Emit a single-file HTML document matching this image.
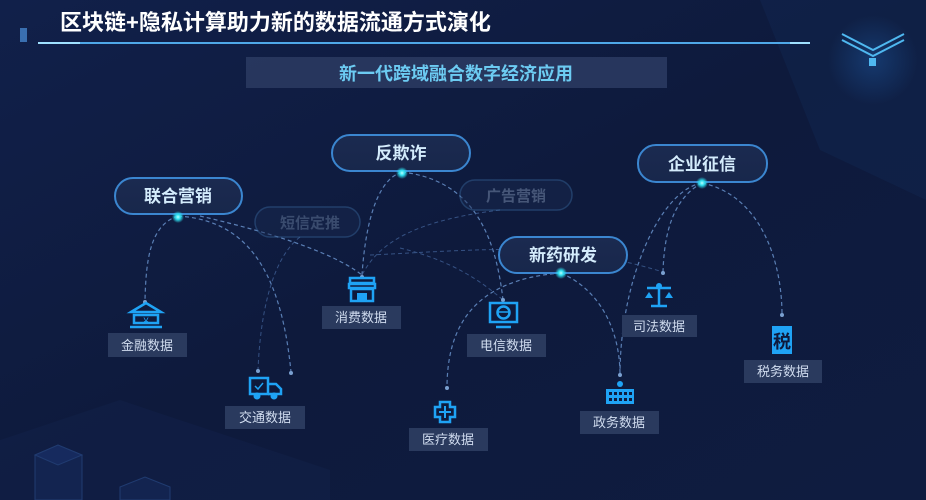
<!DOCTYPE html>
<html><head><meta charset="utf-8">
<style>
html,body{margin:0;padding:0;}
body{width:926px;height:500px;overflow:hidden;background:#0e1a3c;font-family:"Liberation Sans","Noto Sans CJK SC",sans-serif;}
svg{display:block}
text{font-family:"Liberation Sans","Noto Sans CJK SC",sans-serif;}
</style></head><body>
<svg width="926" height="500" viewBox="0 0 926 500" xmlns="http://www.w3.org/2000/svg">
<defs>
<linearGradient id="bg" x1="0" y1="0" x2="1" y2="1">
<stop offset="0" stop-color="#11204a"/><stop offset="0.5" stop-color="#0e1a3c"/><stop offset="1" stop-color="#0f1c40"/>
</linearGradient>
<radialGradient id="rg" cx="0.5" cy="0.5" r="0.5">
<stop offset="0" stop-color="#1a4a8a" stop-opacity="0.6"/><stop offset="1" stop-color="#1a4a8a" stop-opacity="0"/>
</radialGradient>
<radialGradient id="dot" cx="0.5" cy="0.5" r="0.5">
<stop offset="0" stop-color="#bff"/><stop offset="0.4" stop-color="#2de0f0"/><stop offset="1" stop-color="#2de0f0" stop-opacity="0"/>
</radialGradient>
<linearGradient id="pill" x1="0" y1="0" x2="0" y2="1">
<stop offset="0" stop-color="#1b2a50"/><stop offset="1" stop-color="#18274b"/>
</linearGradient>
</defs>
<rect width="926" height="500" fill="url(#bg)"/>
<polygon points="760,0 926,0 926,200 820,150" fill="#15305e" opacity="0.3"/>
<circle cx="873" cy="60" r="45" fill="url(#rg)"/>
<polygon points="0,440 120,400 330,470 330,500 0,500" fill="#13254f" opacity="0.35"/>
<g stroke="#2b4f8f" stroke-width="1" fill="#16295a" opacity="0.6">
<polygon points="35,455 58,445 82,455 82,500 35,500"/>
<polygon points="35,455 58,465 82,455 58,445" fill="#1b3470"/>
<polygon points="120,487 145,477 170,487 170,500 120,500"/>
</g>
<!-- title -->
<rect x="20" y="28" width="7" height="14" fill="#3a6fb0"/>
<text x="60" y="30" font-size="22" font-weight="bold" fill="#ffffff">区块链+隐私计算助力新的数据流通方式演化</text>
<line x1="38" y1="43" x2="810" y2="43" stroke="#4fa8e8" stroke-width="2"/>
<line x1="38" y1="43" x2="80" y2="43" stroke="#9fe0ff" stroke-width="2"/>
<line x1="790" y1="43" x2="810" y2="43" stroke="#9fe0ff" stroke-width="2"/>
<polyline points="842,34 873,50 904,34" fill="none" stroke="#4fb8f0" stroke-width="2"/>
<polyline points="842,40 873,56 904,40" fill="none" stroke="#4fb8f0" stroke-width="2"/>
<rect x="869" y="58" width="7" height="8" fill="#4fb8f0"/>
<!-- subtitle -->
<rect x="246" y="57" width="421" height="31" fill="#2a3a60" opacity="0.9"/>
<text x="456" y="80" font-size="18" font-weight="bold" fill="#6ccbf2" text-anchor="middle">新一代跨域融合数字经济应用</text>

<!-- connectors -->
<g fill="none" stroke="#5a7fb5" stroke-width="1.2" stroke-dasharray="4,3">
<path d="M178,216 C150,225 146,260 145,300"/>
<path d="M178,216 C240,220 280,260 291,372"/>
<path d="M200,216 C260,230 330,250 362,275"/>
<path d="M402,172 C375,180 365,230 362,275"/>
<path d="M402,172 C470,180 495,230 503,300"/>
<path d="M561,273 C470,280 448,330 447,385"/>
<path d="M561,273 C600,290 620,330 620,375"/>
<path d="M702,183 C660,190 620,280 620,375"/>
<path d="M702,183 C670,200 664,240 663,272"/>
<path d="M702,183 C760,195 782,260 782,315"/>
</g>
<g fill="none" stroke="#3f5f95" stroke-width="1" stroke-dasharray="4,3" opacity="0.8">
<path d="M300,237 C270,260 260,320 258,370"/>
<path d="M500,210 C420,220 380,240 362,275"/>
<path d="M370,255 C480,250 560,240 663,272"/>
<path d="M400,248 C450,260 480,280 503,300"/>
</g>
<g fill="#7aa0d0">
<circle cx="145" cy="302" r="2"/><circle cx="362" cy="277" r="2"/><circle cx="503" cy="300" r="2"/>
<circle cx="258" cy="371" r="2"/><circle cx="291" cy="373" r="2"/><circle cx="447" cy="388" r="2"/>
<circle cx="620" cy="375" r="2"/><circle cx="663" cy="273" r="2"/><circle cx="782" cy="315" r="2"/>
</g>

<!-- faded pills -->
<g opacity="0.45">
<rect x="255" y="207" width="105" height="30" rx="15" fill="#1a2a50" stroke="#3a6aa0" stroke-width="1.5"/>
<text x="310" y="228" font-size="15" font-weight="bold" fill="#6f86a8" text-anchor="middle">短信定推</text>
<rect x="460" y="180" width="112" height="30" rx="15" fill="#1a2a50" stroke="#3a6aa0" stroke-width="1.5"/>
<text x="516" y="201" font-size="15" font-weight="bold" fill="#8aa0c0" text-anchor="middle">广告营销</text>
</g>
<!-- pills -->
<g stroke="#3b86d0" stroke-width="2" fill="url(#pill)">
<rect x="115" y="178" width="127" height="36" rx="18"/>
<rect x="332" y="135" width="138" height="36" rx="18"/>
<rect x="499" y="237" width="128" height="36" rx="18"/>
<rect x="638" y="145" width="129" height="37" rx="18"/>
</g>
<g font-size="17" font-weight="bold" fill="#d4ecfc" text-anchor="middle">
<text x="178" y="202">联合营销</text>
<text x="401" y="159">反欺诈</text>
<text x="563" y="261">新药研发</text>
<text x="702" y="170">企业征信</text>
</g>
<g>
<circle cx="178" cy="217" r="6" fill="url(#dot)"/>
<circle cx="402" cy="173" r="6" fill="url(#dot)"/>
<circle cx="561" cy="273" r="6" fill="url(#dot)"/>
<circle cx="702" cy="183" r="6" fill="url(#dot)"/>
</g>

<!-- icons -->
<g fill="none" stroke="#1fa3f5" stroke-width="2.5">
<polygon points="131,312 146,303 161,312" />
<rect x="134" y="315" width="24" height="8"/>
<line x1="130" y1="327" x2="162" y2="327"/>
<rect x="350" y="278" width="24" height="5"/>
<path d="M349,284 h26 v4 h-26 z"/>
<rect x="351" y="289" width="22" height="12"/>
<rect x="490" y="303" width="27" height="19"/>
<circle cx="503.5" cy="312.5" r="6"/>
<line x1="497" y1="312" x2="510" y2="312" stroke-width="1.5"/>
<line x1="496" y1="327" x2="511" y2="327"/>
<rect x="250" y="378" width="18" height="16"/>
<path d="M268,384 h8 l5,5 v5 h-13"/>
<path d="M440,402 h10 v5 h5 v10 h-5 v5 h-10 v-5 h-5 v-10 h5 z"/>
<line x1="647" y1="288" x2="671" y2="288"/>
<line x1="659" y1="284" x2="659" y2="306"/>
<line x1="651" y1="306" x2="667" y2="306"/>
</g>
<g fill="#1fa3f5">
<rect x="357" y="293" width="10" height="8"/>
<circle cx="257" cy="396" r="3.5"/><circle cx="274" cy="396" r="3.5"/>
<rect x="444" y="406" width="2" height="12"/>
<rect x="439" y="411" width="12" height="2"/>
<path d="M645,298 l4,-6 4,6 z"/><path d="M665,298 l4,-6 4,6 z"/>
<circle cx="659" cy="286" r="3"/>
<rect x="606" y="389" width="28" height="15"/>
<circle cx="620" cy="384" r="3"/>
<rect x="772" y="326" width="20" height="28"/>
</g>
<g fill="#0e1a3c">
<rect x="609" y="392" width="3" height="3"/><rect x="614" y="392" width="3" height="3"/><rect x="619" y="392" width="3" height="3"/><rect x="624" y="392" width="3" height="3"/><rect x="629" y="392" width="3" height="3"/>
<rect x="609" y="398" width="3" height="3"/><rect x="614" y="398" width="3" height="3"/><rect x="619" y="398" width="3" height="3"/><rect x="624" y="398" width="3" height="3"/><rect x="629" y="398" width="3" height="3"/>
<text x="782" y="348" font-size="18" font-weight="bold" text-anchor="middle" fill="#0e1a3c">税</text>
</g>
<text x="146" y="324" font-size="9" fill="#1fa3f5" text-anchor="middle">¥</text>
<polyline points="255,386 258,389 263,383" fill="none" stroke="#1fa3f5" stroke-width="1.5"/>

<!-- labels -->
<g fill="#2a3a5e">
<rect x="108" y="333" width="79" height="24"/>
<rect x="322" y="306" width="79" height="23"/>
<rect x="467" y="334" width="79" height="23"/>
<rect x="225" y="406" width="80" height="23"/>
<rect x="409" y="428" width="79" height="23"/>
<rect x="580" y="411" width="79" height="23"/>
<rect x="622" y="315" width="75" height="22"/>
<rect x="744" y="360" width="78" height="23"/>
</g>
<g font-size="13" fill="#d0dcef" text-anchor="middle">
<text x="147" y="350">金融数据</text>
<text x="361" y="322">消费数据</text>
<text x="506" y="350">电信数据</text>
<text x="265" y="422">交通数据</text>
<text x="448" y="444">医疗数据</text>
<text x="619" y="427">政务数据</text>
<text x="659" y="331">司法数据</text>
<text x="783" y="376">税务数据</text>
</g>
</svg>
</body></html>
